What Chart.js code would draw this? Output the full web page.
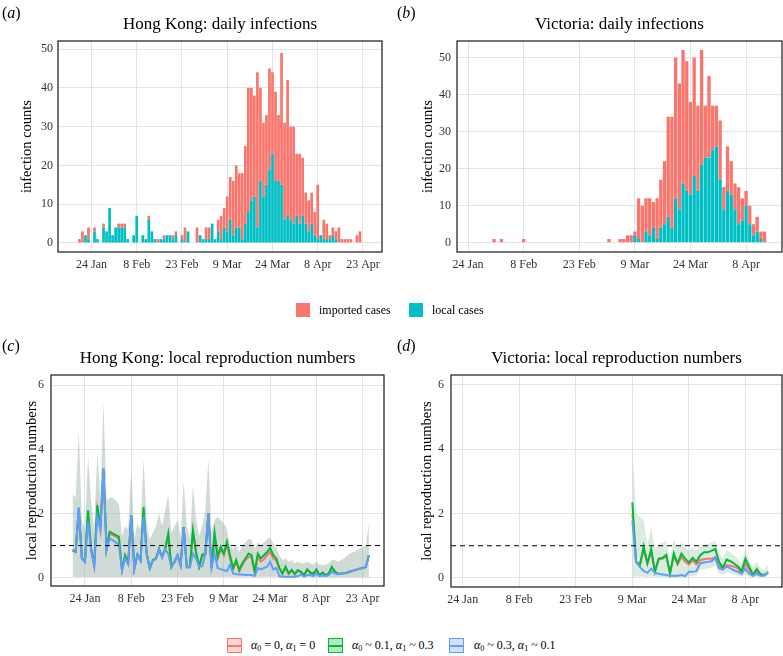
<!DOCTYPE html>
<html>
<head>
<meta charset="utf-8">
<script src="https://cdn.jsdelivr.net/npm/chart.js@4.4.1/dist/chart.umd.min.js"></script>
<style>
  body { margin: 0; background: #fff; width: 783px; height: 656px; position: relative; overflow: hidden;
         font-family: "Liberation Serif", "DejaVu Serif", serif; color: #000; }
  canvas { position: absolute; }
  .tag { position: absolute; font-size: 16px; line-height: 20px; }
  .lg { position: absolute; font-size: 12px; white-space: nowrap; }
  .lg sub { font-size: 8px; vertical-align: -2px; line-height: 0; }
  .sq { position: absolute; width: 14px; height: 14px; }
  .key { position: absolute; width: 15px; height: 15px; box-sizing: border-box; border: 1px solid; }
  .key div { position: absolute; left: 0; right: 0; top: 5.5px; height: 2px; }
</style>
</head>
<body>
<canvas id="pa" width="390" height="280" style="left:0;top:0"></canvas>
<canvas id="pb" width="393" height="280" style="left:390px;top:0"></canvas>
<canvas id="pc" width="390" height="280" style="left:0;top:334px"></canvas>
<canvas id="pd" width="393" height="280" style="left:390px;top:334px"></canvas>

<div class="tag" style="left:2px;top:3px">(<i>a</i>)</div>
<div class="tag" style="left:397px;top:3px">(<i>b</i>)</div>
<div class="tag" style="left:2px;top:336px">(<i>c</i>)</div>
<div class="tag" style="left:397px;top:336px">(<i>d</i>)</div>

<div class="sq" style="left:296px;top:303px;background:#F8766D"></div>
<div class="lg" style="left:319px;top:302px;line-height:16px">imported cases</div>
<div class="sq" style="left:409px;top:303px;background:#00BFC4"></div>
<div class="lg" style="left:432px;top:302px;line-height:16px">local cases</div>

<div class="key" style="left:227px;top:638px;border-color:#F8766D;background:rgba(248,118,109,0.3)"><div style="background:#F8766D"></div></div>
<div class="lg" style="left:251px;top:638px;line-height:15px"><i>α</i><sub>0</sub> = 0, <i>α</i><sub>1</sub> = 0</div>
<div class="key" style="left:328px;top:638px;border-color:#00BA38;background:rgba(0,186,56,0.3)"><div style="background:#00BA38"></div></div>
<div class="lg" style="left:352px;top:638px;line-height:15px"><i>α</i><sub>0</sub> ~ 0.1, <i>α</i><sub>1</sub> ~ 0.3</div>
<div class="key" style="left:449px;top:638px;border-color:#619CFF;background:rgba(97,156,255,0.3)"><div style="background:#619CFF"></div></div>
<div class="lg" style="left:474px;top:638px;line-height:15px"><i>α</i><sub>0</sub> ~ 0.3, <i>α</i><sub>1</sub> ~ 0.1</div>

<script>
const FONT = '"Liberation Serif", "DejaVu Serif", serif';
const RED = '#F8766D', TEAL = '#00BFC4', GREEN = '#00BA38', BLUE = '#619CFF';

// x values are day numbers, 0 = 1 Jan 2020
const tickDays = [23, 38, 53, 68, 83, 98, 113];
const tickLabels = ['24 Jan', '8 Feb', '23 Feb', '9 Mar', '24 Mar', '8 Apr', '23 Apr'];
const countTicks = [0, 10, 20, 30, 40, 50];
const rTicks = [0, 2, 4, 6];
const threshold = 1;

// (a) Hong Kong daily infections, from day 19 (20 Jan)
const hkStart = 19;
const hkLocal = [0, 0, 2, 1, 0, 3, 1, 0, 4, 3, 9, 2, 4, 4, 4, 4, 1, 0, 2, 7,
  0, 2, 1, 6, 3, 1, 0, 1, 1, 2, 2, 1, 2, 0, 1, 0, 3, 0, 0, 0,
  2, 1, 1, 1, 5, 1, 3, 1, 4, 3, 6, 2, 4, 4, 1, 5, 8, 11, 12, 4,
  16, 12, 15, 19, 23, 16, 16, 15, 6, 7, 6, 5, 7, 5, 7, 5, 3, 5, 2, 1,
  2, 1, 1, 1, 2, 1, 0, 0, 0, 0, 0, 0, 0, 0];
const hkImported = [1, 3, 0, 3, 0, 1, 0, 0, 1, 0, 0, 0, 0, 1, 1, 1, 0, 0, 0, 0,
  0, 0, 0, 1, 0, 0, 1, 0, 1, 0, 0, 1, 1, 0, 1, 4, 0, 0, 0, 4,
  0, 0, 3, 3, 0, 0, 3, 6, 5, 9, 11, 14, 16, 14, 17, 20, 32, 29, 26, 40,
  24, 19, 18, 26, 21, 23, 17, 34, 25, 35, 24, 25, 16, 18, 15, 8, 8, 8, 6, 14,
  0, 5, 4, 1, 2, 2, 4, 1, 1, 1, 1, 0, 2, 3];

// (b) Victoria daily infections, from day 30 (31 Jan)
const vicStart = 30;
const vicLocal = [0, 0, 0, 0, 0, 0, 0, 0, 0, 0, 0, 0, 0, 0, 0, 0, 0, 0, 0, 0,
  0, 0, 0, 0, 0, 0, 0, 0, 0, 0, 0, 0, 0, 0, 0, 0, 0, 0, 2, 1,
  0, 3, 2, 4, 1, 4, 5, 7, 4, 12, 9, 16, 14, 13, 18, 14, 21, 23, 23, 25,
  26, 17, 9, 14, 13, 9, 5, 6, 10, 5, 2, 3, 1, 0];
const vicImported = [1, 0, 1, 0, 0, 0, 0, 0, 1, 0, 0, 0, 0, 0, 0, 0, 0, 0, 0, 0,
  0, 0, 0, 0, 0, 0, 0, 0, 0, 0, 0, 1, 0, 0, 1, 1, 2, 2, 1, 11,
  10, 9, 10, 7, 11, 13, 17, 27, 30, 38, 34, 36, 35, 25, 32, 23, 31, 14, 22, 12,
  11, 16, 6, 12, 9, 7, 10, 6, 4, 5, 3, 4, 2, 3];

// (c) Hong Kong local reproduction numbers, from day 19
const hkRStart = 19;
const hkR0 = [0.84, 0.8, 2.1, 0.6, 0.5, 2.0, 0.88, 0.4, 2.15, 1.5, 3.3,
  0.88, 1.38, 1.33, 1.28, 1.22, 0.24, 0.68, 0.44, 1.9, 0.28,
  0.7, 0.54, 2.1, 0.74, 0.3, 0.54, 0.58, 0.88, 0.64, 0.88,
  1.3, 0.33, 0.49, 0.7, 0.39, 1.56, 0.33, 0.33, 1.4, 0.76,
  0.34, 0.66, 0.74, 2.0, 0.3, 1.3, 0.6, 0.9, 0.7, 1.05,
  0.6, 0.25, 0.5, 0.2, 0.4, 0.55, 0.65, 0.62, 0.15, 0.65,
  0.5, 0.57, 0.7, 0.8, 0.6, 0.53, 0.28, 0.12, 0.3, 0.12,
  0.22, 0.1, 0.22, 0.16, 0.07, 0.24, 0.15, 0.12, 0.24, 0.07,
  0.15, 0.07, 0.12, 0.3, 0.17, 0.11, 0.12, 0.14, 0.16, 0.19,
  0.22, 0.25, 0.28, 0.3, 0.33, 0.7];
const hkR1 = [0.85, 0.82, 2.15, 0.62, 0.5, 2.1, 0.9, 0.4, 2.26, 1.55, 3.4,
  0.9, 1.43, 1.38, 1.33, 1.28, 0.25, 0.7, 0.45, 1.95, 0.3,
  0.72, 0.55, 2.2, 0.75, 0.3, 0.55, 0.6, 0.9, 0.65, 0.9,
  1.38, 0.34, 0.5, 0.7, 0.4, 1.58, 0.34, 0.34, 1.48, 0.8,
  0.34, 0.72, 0.75, 2.0, 0.3, 1.4, 0.65, 0.96, 0.75, 1.12,
  0.7, 0.3, 0.55, 0.24, 0.45, 0.6, 0.75, 0.7, 0.19, 0.75,
  0.6, 0.7, 0.8, 0.93, 0.7, 0.6, 0.3, 0.13, 0.34, 0.13,
  0.24, 0.11, 0.24, 0.18, 0.08, 0.26, 0.16, 0.13, 0.26, 0.08,
  0.16, 0.08, 0.13, 0.34, 0.19, 0.13, 0.13, 0.14, 0.16, 0.19,
  0.22, 0.25, 0.28, 0.3, 0.33, 0.7];
const hkR2 = [0.88, 0.84, 2.2, 0.58, 0.48, 1.75, 0.85, 0.36, 1.9, 1.5, 3.4,
  0.86, 1.22, 1.17, 1.1, 1.02, 0.22, 0.6, 0.42, 1.95, 0.26,
  0.7, 0.52, 1.9, 0.75, 0.28, 0.52, 0.58, 0.88, 0.62, 0.88,
  0.75, 0.32, 0.48, 0.7, 0.38, 1.55, 0.32, 0.32, 0.75, 0.6,
  0.34, 0.36, 0.72, 2.0, 0.3, 0.75, 0.3, 0.26, 0.24, 0.2,
  0.4, 0.13, 0.11, 0.1, 0.1, 0.08, 0.08, 0.08, 0.05, 0.3,
  0.26, 0.3, 0.34, 0.5, 0.26, 0.3, 0.05, 0.03, 0.03, 0.03,
  0.03, 0.03, 0.05, 0.1, 0.03, 0.08, 0.08, 0.05, 0.13, 0.05,
  0.07, 0.05, 0.08, 0.19, 0.13, 0.11, 0.12, 0.14, 0.16, 0.19,
  0.22, 0.25, 0.28, 0.3, 0.33, 0.7];
const hkBandHi = [2.6, 2.5, 4.6, 1.8, 1.5, 3.8, 2.4, 1.5, 3.9, 2.5, 5.5,
  2.4, 2.5, 2.5, 2.4, 2.3, 1.3, 1.6, 1.5, 3.4, 1.2,
  1.7, 1.5, 3.7, 1.7, 1.2, 1.4, 1.6, 2.0, 1.6, 2.1,
  2.6, 1.4, 1.6, 1.8, 1.3, 3.0, 1.6, 1.2, 2.9, 1.8,
  1.3, 1.6, 2.1, 3.7, 1.4, 1.8, 1.9, 1.8, 1.7, 1.5,
  1.0, 0.9, 1.0, 0.8, 1.0, 1.1, 1.2, 1.2, 0.9, 1.1,
  1.0, 1.1, 1.2, 1.25, 1.05, 0.95, 0.7, 0.55, 0.6, 0.5,
  0.55, 0.45, 0.5, 0.45, 0.45, 0.5, 0.45, 0.4, 0.5, 0.4,
  0.4, 0.4, 0.45, 0.55, 0.55, 0.5, 0.55, 0.6, 0.7, 0.75,
  0.8, 0.85, 0.9, 0.95, 1.0, 1.7];
const hkBandLo = [0.02, 0.02, 0.02, 0.02, 0.02, 0.02, 0.02, 0.02, 0.02, 0.02, 0.02,
  0.02, 0.02, 0.02, 0.02, 0.02, 0.02, 0.02, 0.02, 0.02, 0.02,
  0.02, 0.02, 0.02, 0.02, 0.02, 0.02, 0.02, 0.02, 0.02, 0.02,
  0.02, 0.02, 0.02, 0.02, 0.02, 0.02, 0.02, 0.02, 0.02, 0.02,
  0.02, 0.02, 0.02, 0.02, 0.02, 0.02, 0.02, 0.02, 0.02, 0.02,
  0.03, 0.03, 0.03, 0.03, 0.03, 0.03, 0.03, 0.03, 0.03, 0.03,
  0.03, 0.03, 0.03, 0.03, 0.03, 0.03, 0.01, 0.01, 0.01, 0.01,
  0.01, 0.01, 0.01, 0.01, 0.01, 0.01, 0.01, 0.01, 0.01, 0.01,
  0.01, 0.01, 0.01, 0.01, 0.01, 0.01, 0.01, 0.01, 0.01, 0.01,
  0.01, 0.01, 0.01, 0.01, 0.01, 0.01];

// (d) Victoria local reproduction numbers, from day 68 (9 Mar)
const vicRStart = 68;
const vicR0 = [2.0, 0.5, 0.4, 0.85, 0.45, 0.8, 0.2, 0.6, 0.6, 0.68, 0.15, 0.68, 0.42, 0.65,
  0.5, 0.42, 0.55, 0.42, 0.55, 0.58, 0.6, 0.6, 0.65, 0.38, 0.28, 0.4, 0.38, 0.35,
  0.3, 0.15, 0.45, 0.25, 0.08, 0.2, 0.1, 0.08, 0.17];
const vicR1 = [2.35, 0.5, 0.4, 0.98, 0.45, 0.9, 0.2, 0.6, 0.62, 0.72, 0.13, 0.76, 0.45, 0.76,
  0.6, 0.48, 0.63, 0.5, 0.7, 0.8, 0.8, 0.84, 0.9, 0.5, 0.32, 0.57, 0.52, 0.45,
  0.36, 0.22, 0.6, 0.34, 0.1, 0.28, 0.12, 0.09, 0.18];
const vicR2 = [1.78, 0.5, 0.34, 0.22, 0.16, 0.29, 0.16, 0.13, 0.11, 0.09, 0.07, 0.07, 0.07, 0.09,
  0.06, 0.19, 0.19, 0.22, 0.45, 0.48, 0.5, 0.52, 0.62, 0.3, 0.26, 0.36, 0.3, 0.24,
  0.19, 0.13, 0.29, 0.13, 0.07, 0.13, 0.07, 0.08, 0.19];
const vicBandHi = [4.1, 2.0, 1.9, 1.8, 1.0, 1.6, 0.9, 1.05, 1.1, 1.15, 0.6, 1.2, 0.9, 1.1,
  0.95, 0.85, 0.95, 0.85, 1.0, 1.05, 1.05, 1.1, 1.15, 0.8, 0.6, 0.85, 0.8, 0.7,
  0.6, 0.45, 0.95, 0.55, 0.3, 0.5, 0.3, 0.25, 0.38];
const vicBandLo = [0.0, 0.05, 0.05, 0.04, 0.03, 0.05, 0.03, 0.03, 0.03, 0.02, 0.02, 0.02, 0.02, 0.02,
  0.02, 0.05, 0.05, 0.06, 0.25, 0.28, 0.3, 0.32, 0.38, 0.15, 0.1, 0.18, 0.15, 0.1,
  0.08, 0.04, 0.12, 0.04, 0.02, 0.04, 0.02, 0.02, 0.06];

const pts = (start, arr) => arr.map((v, i) => ({x: start + i, y: v}));

// black panel border like ggplot's panel.border
const frame = {
  id: 'frame',
  afterDraw(chart) {
    const {ctx, chartArea: a} = chart;
    ctx.save();
    ctx.strokeStyle = '#1a1a1a';
    ctx.lineWidth = 1.2;
    ctx.strokeRect(a.left, a.top, a.right - a.left, a.bottom - a.top);
    ctx.restore();
  }
};

function axes(g) {
  const grid = {color: '#e4e4e4', lineWidth: 1, drawTicks: false, offset: false};
  return {
    x: {
      type: 'linear', min: g.xmin, max: g.xmax, stacked: !!g.stacked, offset: false,
      afterBuildTicks: s => { s.ticks = tickDays.filter(v => v >= g.xmin && v <= g.xmax).map(v => ({value: v})); },
      afterFit: s => { s.height = g.xh; },
      grid: grid, border: {display: false},
      ticks: {padding: 6, color: '#333', font: {family: FONT, size: 12}, maxRotation: 0, autoSkip: false,
        callback: v => tickLabels[tickDays.indexOf(v)]}
    },
    y: {
      type: 'linear', min: g.ymin, max: g.ymax, stacked: !!g.stacked,
      afterBuildTicks: s => { s.ticks = g.yticks.map(v => ({value: v})); },
      afterFit: s => { s.width = g.yw; },
      grid: grid, border: {display: false},
      ticks: {padding: g.ypad, color: '#333', font: {family: FONT, size: 12}},
      title: {display: true, text: g.ytitle, color: '#000', font: {family: FONT, size: 14.5},
        padding: {top: g.ytp, bottom: 0}}
    }
  };
}

function common(g) {
  return {
    responsive: false, animation: false, devicePixelRatio: 1,
    layout: {padding: {left: 0, right: g.pr, top: 0, bottom: 0}},
    plugins: {
      legend: {display: false}, tooltip: {enabled: false},
      title: {display: true, text: g.title, fullSize: false, color: '#000',
        font: {family: FONT, size: 17, weight: 'normal', lineHeight: 1.2},
        padding: {top: 14.8, bottom: 5.8}}
    },
    scales: axes(g)
  };
}

function barPanel(id, g, start, local, imported) {
  new Chart(document.getElementById(id), {
    type: 'bar',
    data: {datasets: [
      {data: pts(start, local), backgroundColor: TEAL, barPercentage: 0.9, categoryPercentage: 1},
      {data: pts(start, imported), backgroundColor: RED, barPercentage: 0.9, categoryPercentage: 1}
    ]},
    options: common(Object.assign({stacked: true, yticks: countTicks, ytitle: 'infection counts'}, g)),
    plugins: [frame]
  });
}

// lower "order" is drawn on top: blue over green over red, dashed line last
function rPanel(id, g, start, r0, r1, r2, lo, hi) {
  const line = (arr, c, ord) => ({data: pts(start, arr), borderColor: c, borderWidth: 2, pointRadius: 0,
    fill: false, order: ord});
  new Chart(document.getElementById(id), {
    type: 'line',
    data: {datasets: [
      {data: pts(start, lo), borderWidth: 0, pointRadius: 0, fill: false, order: 10},
      {data: pts(start, hi), borderWidth: 0, pointRadius: 0, fill: '-1', backgroundColor: g.band, order: 9},
      line(r0, RED, 3), line(r1, GREEN, 2), line(r2, BLUE, 1),
      {data: [{x: g.xmin, y: threshold}, {x: g.xmax, y: threshold}], borderColor: '#000', borderWidth: 1,
        borderDash: [5, 4], pointRadius: 0, fill: false, order: 0}
    ]},
    options: common(Object.assign({yticks: rTicks, ytitle: 'local reproduction numbers', ymin: -0.26, ymax: 6.32}, g)),
    plugins: [frame]
  });
}

barPanel('pa', {title: 'Hong Kong: daily infections', xmin: 11.9, xmax: 119.3, ymin: -2.32, ymax: 52.07,
  yw: 58, xh: 28, pr: 8, ypad: 5, ytp: 18}, hkStart, hkLocal, hkImported);
barPanel('pb', {title: 'Victoria: daily infections', xmin: 20, xmax: 107.7, ymin: -2.51, ymax: 54.46,
  yw: 67, xh: 28, pr: 1, ypad: 6, ytp: 29.6}, vicStart, vicLocal, vicImported);
rPanel('pc', {title: 'Hong Kong: local reproduction numbers', xmin: 12, xmax: 119.9,
  yw: 51, xh: 28, pr: 6, ypad: 7, ytp: 23, band: 'rgba(150,176,165,0.45)'},
  hkRStart, hkR0, hkR1, hkR2, hkBandLo, hkBandHi);
rPanel('pd', {title: 'Victoria: local reproduction numbers', xmin: 19.9, xmax: 107.7, ymin: -0.28, ymax: 6.3,
  yw: 61, xh: 27, pr: 1, ypad: 7, ytp: 28, band: 'rgba(165,205,175,0.4)'},
  vicRStart, vicR0, vicR1, vicR2, vicBandLo, vicBandHi);
</script>
</body>
</html>
